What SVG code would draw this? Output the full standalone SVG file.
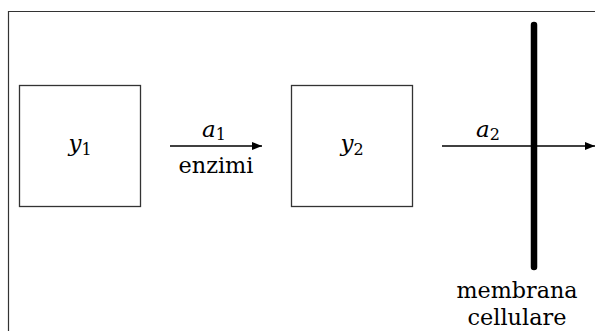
<svg xmlns="http://www.w3.org/2000/svg" width="595" height="331" viewBox="0 0 595 331">
<style>
.frame{fill:none;stroke:#333;stroke-width:1.2}
.box{fill:#fff;stroke:#333;stroke-width:1.3}
.arrow{stroke:#000;stroke-width:1.3;fill:none;marker-end:url(#ah)}
text{font-family:"DejaVu Serif","Liberation Serif",serif;font-size:23px;fill:#000}
.m{font-style:italic}
.sub{font-style:normal;font-size:16px}
</style>
<defs>
<marker id="ah" markerWidth="10" markerHeight="8" refX="10" refY="4" orient="auto" markerUnits="userSpaceOnUse">
<path d="M0,0 L10,4 L0,8 Z" fill="#000"/>
</marker>
</defs>
<rect width="595" height="331" fill="#fff"/>
<path class="frame" d="M8.5,331 V11.5 H595"/>
<g id="y1">
<rect class="box" x="19.5" y="85.5" width="121" height="121"/>
<text class="m" x="80" y="151" text-anchor="middle">y<tspan class="sub" dy="4">1</tspan></text>
</g>
<g id="y2">
<rect class="box" x="291.5" y="85.5" width="121" height="121"/>
<text class="m" x="352" y="151" text-anchor="middle">y<tspan class="sub" dy="4">2</tspan></text>
</g>
<g id="membrane">
<line x1="534" y1="25" x2="534" y2="267" stroke="#000" stroke-width="6.5" stroke-linecap="round"/>
<text x="517" y="298" text-anchor="middle" textLength="121" lengthAdjust="spacingAndGlyphs">membrana</text>
<text x="517" y="325" text-anchor="middle" textLength="99" lengthAdjust="spacingAndGlyphs">cellulare</text>
</g>
<g id="connectors">
<line class="arrow" x1="170" y1="146" x2="262" y2="146"/>
<text class="m" x="214" y="137" text-anchor="middle">a<tspan class="sub" dy="3">1</tspan></text>
<text x="216" y="173" text-anchor="middle" textLength="75" lengthAdjust="spacingAndGlyphs">enzimi</text>
<line class="arrow" x1="442" y1="146" x2="595" y2="146"/>
<text class="m" x="488" y="137" text-anchor="middle">a<tspan class="sub" dy="3">2</tspan></text>
</g>
</svg>
